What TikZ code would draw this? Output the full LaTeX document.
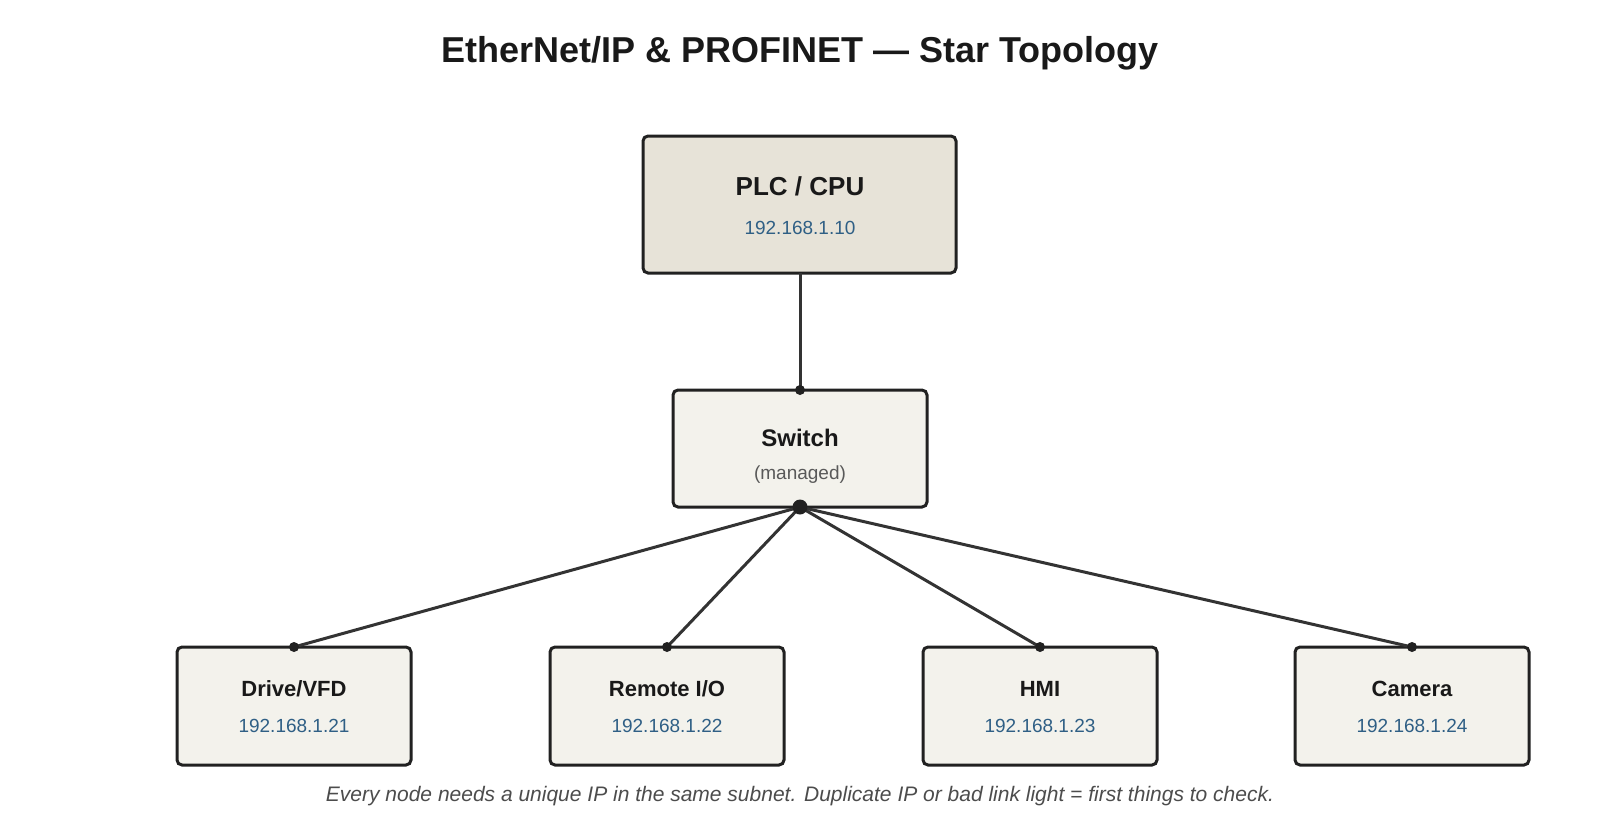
\documentclass[tikz,border=0pt]{standalone}
\usepackage{fontspec}
\setmainfont{Liberation Sans}
\begin{document}
\begin{tikzpicture}[x=1pt,y=-1pt,
  box/.style={draw=black!87,line width=3pt,rounded corners=5pt,fill=boxfill},
  ttl/.style={font=\fontsize{24}{28}\selectfont\bfseries,text=black!90},
  ip/.style={font=\fontsize{19}{22}\selectfont,text=ipc},
  link/.style={draw=black!80,line width=3pt},
  dot/.style={circle,fill=black!87,inner sep=0pt,minimum size=10pt}]
\definecolor{boxfill}{HTML}{F3F2EC}
\definecolor{plcfill}{HTML}{E7E3D8}
\definecolor{ipc}{HTML}{2F5F85}
\useasboundingbox (0,0) rectangle (1600,820);
\node[font=\fontsize{36}{40}\selectfont\bfseries,text=black!90] (title) at (800,53) {EtherNet/IP \& PROFINET — Star Topology};
% PLC
\draw[box,fill=plcfill] (643,136) rectangle (956,273);
\node[ttl,font=\fontsize{26}{30}\selectfont\bfseries] (plct) at (800,186) {PLC / CPU};
\node[ip] (plcip) at (800,228) {192.168.1.10};
\coordinate (plcb) at (800,273);
% Switch
\draw[box] (673,390) rectangle (927,507);
\node[ttl] (swt) at (800,438) {Switch};
\node[font=\fontsize{19}{22}\selectfont,text=black!65] (swm) at (800,475) {(managed)};
\coordinate (swtop) at (800,390);
\coordinate (swbot) at (800,507);
\draw[link] (plcb) -- (swtop);
% bottom devices
\foreach \n/\x/\name/\addr in {d1/294/Drive\slash VFD/192.168.1.21, d2/667/Remote I\slash O/192.168.1.22, d3/1040/HMI/192.168.1.23, d4/1412/Camera/192.168.1.24}{
  \draw[box] (\x-117,647) rectangle (\x+117,765);
  \node[ttl,font=\fontsize{22}{26}\selectfont\bfseries] (\n t) at (\x,689) {\name};
  \node[ip] (\n ip) at (\x,726) {\addr};
  \coordinate (\n) at (\x,647);
  \draw[link] (swbot) -- (\n);
  \node[dot] at (\n) {};
}
\node[dot] at (swtop) {};
\node[dot,minimum size=15pt] at (swbot) {};
\node[font=\fontsize{21}{24}\selectfont\itshape,text=black!70] (foot) at (800,796) {Every node needs a unique IP in the same subnet. Duplicate IP or bad link light = first things to check.};
\end{tikzpicture}
\end{document}
